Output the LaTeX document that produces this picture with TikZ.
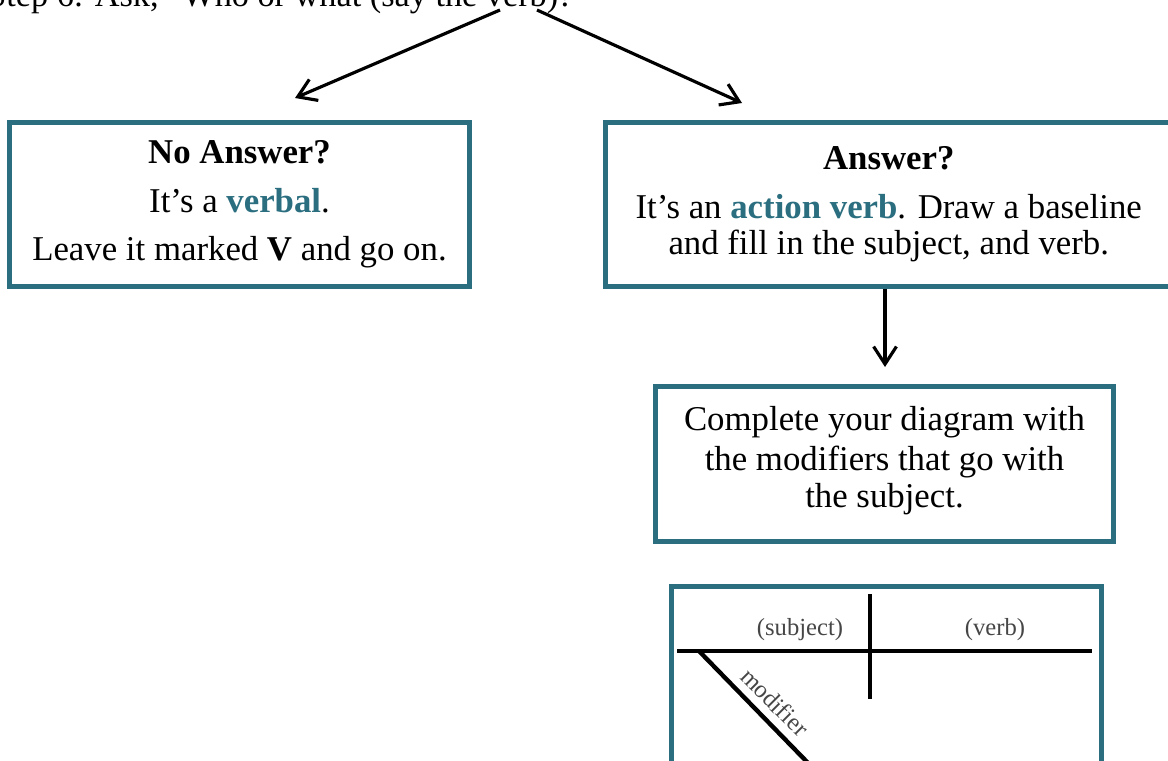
\documentclass[tikz,border=0pt]{standalone}
\usepackage{fontspec}
\setmainfont{Liberation Serif}
\usepackage{tikz}
\usetikzlibrary{arrows.meta}
\definecolor{boxteal}{RGB}{43,110,128}
\definecolor{diagray}{RGB}{70,70,70}
\tikzstyle{box}    = [draw=boxteal,line width=2.6pt,align=center,inner sep=0pt,font=\fontsize{19.8}{21}\selectfont]
\tikzstyle{arrow}  = [line width=1.8pt,->,>={Straight Barb[length=10pt,width=13pt]}]
\tikzstyle{rule}   = [line width=2.5pt]
\tikzstyle{lbl}    = [text=diagray,inner sep=0pt,font=\fontsize{14}{16}\selectfont]
\newcommand{\hl}[1]{\textcolor{boxteal}{\textbf{#1}}}

\begin{document}
\begin{tikzpicture}[x=0.02cm,y=-0.02cm]
          \useasboundingbox(0, 0)rectangle(1168, 760);
          \clip(0, 0)rectangle(1168, 760);
          \node[anchor=base west,inner sep=0pt,font=\fontsize{19.5}{22}\selectfont](step)at(-13, 7){Step 6: Ask, ``Who or what (say the verb)?''};
          \coordinate(s1)at(500, 10);
          \coordinate(s2)at(537, 10);
          \coordinate(t1)at(295, 98);
          \coordinate(t2)at(742, 103);
          \node[box,minimum width=9.2cm,minimum height=3.28cm](noans)at(239.5, 204.5){\textbf{No Answer?}\\[6.5pt]It’s a \hl{verbal}.\\[6.8pt]Leave it marked \textbf{V} and go on.};
          \node[box,minimum width=11.33cm,minimum height=3.28cm](ans)at(888.75, 204.5){\textbf{Answer?}\\[6.5pt]It’s an \hl{action verb}. Draw a baseline\\and fill in the subject, and verb.};
          \node[box,minimum width=9.16cm,minimum height=3.1cm,text depth=8pt](compl)at(884.5, 464){Complete your diagram with\\[1.5pt]the modifiers that go with\\the subject.};
          \coordinate(t3)at(885, 367);
          \draw[arrow](s1)--(t1);
          \draw[arrow](s2)--(t2);
          \draw[arrow](ans.south -| t3)--(t3);
          % sentence diagram
          \node[box,minimum width=8.6cm,minimum height=3.77cm](diag)at(886.5, 680.75){};
          \draw[rule](677, 651)--(1092, 651);
          \draw[rule](870, 594)--(870, 699);
          \draw[rule](699, 651)--(810, 765);
          \node[lbl](subj)at(800, 630){(subject)};
          \node[lbl](verb)at(995, 630){(verb)};
          \node[lbl,rotate=-45](modi)at(775, 702){modifier};
      \end{tikzpicture}
\end{document}
